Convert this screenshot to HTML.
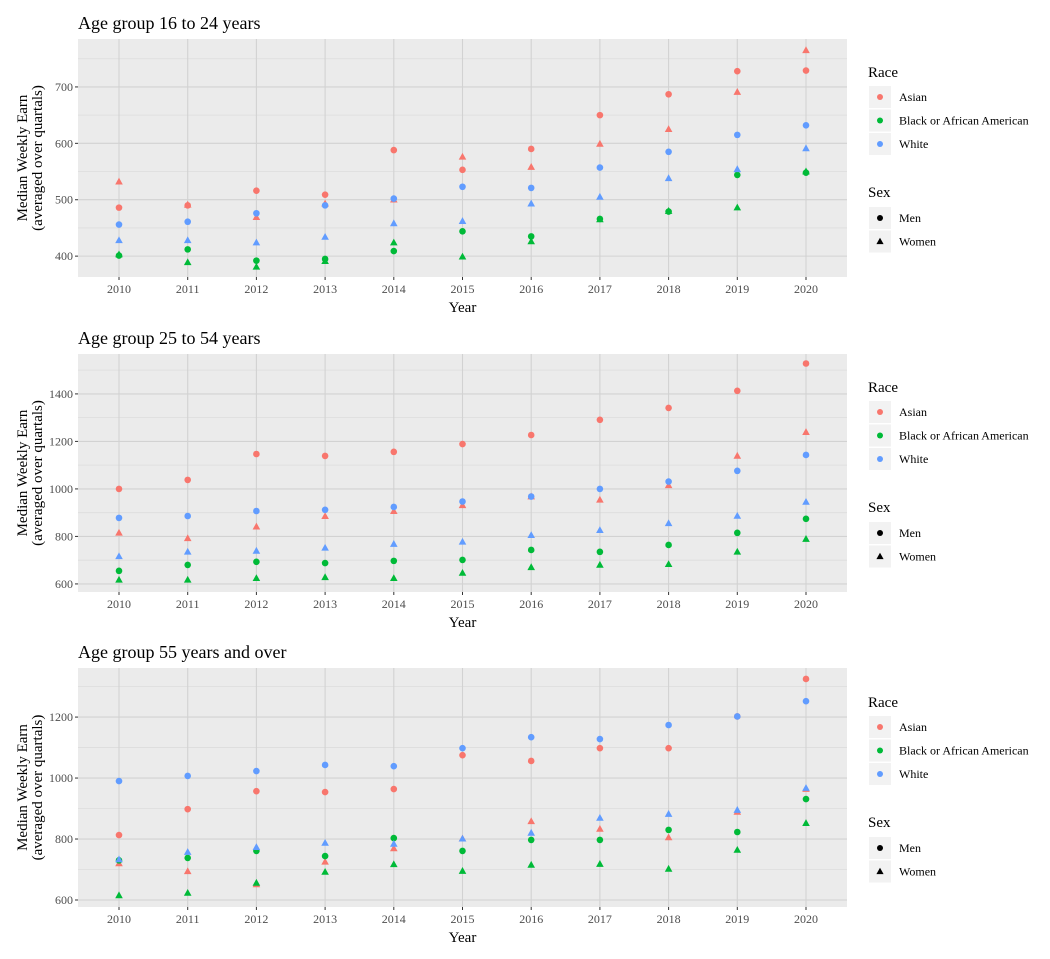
<!DOCTYPE html>
<html><head><meta charset="utf-8">
<style>
body{margin:0;background:#fff;}
svg{display:block;font-family:"Liberation Serif",serif;}
</style></head>
<body>
<svg id="chart" width="1050" height="959" viewBox="0 0 1050 959"></svg>
<script>
const years = [2010,2011,2012,2013,2014,2015,2016,2017,2018,2019,2020];
const races = ["Asian","Black or African American","White"];
const sexes = ["Men","Women"];
const colors = ["#F8766D","#00BA38","#619CFF"];
const titles = ["Age group 16 to 24 years","Age group 25 to 54 years","Age group 55 years and over"];
// panel 1 (16-24)
const p1AsianMen   = [486,490,516,509,588,553,590,650,687,728,729];
const p1AsianWomen = [532,491,469,493,500,576,558,599,625,691,765];
const p1BlackMen   = [401,412,392,395,409,444,435,466,479,544,548];
const p1BlackWomen = [403,389,381,391,424,399,426,465,480,486,550];
const p1WhiteMen   = [456,461,476,490,502,523,521,557,585,615,632];
const p1WhiteWomen = [428,428,424,434,458,462,493,505,538,554,591];
// panel 2 (25-54)
const p2AsianMen   = [1000,1038,1147,1139,1156,1189,1227,1291,1341,1413,1528];
const p2AsianWomen = [815,792,841,885,906,931,968,954,1015,1139,1239];
const p2BlackMen   = [655,680,693,688,697,701,743,735,764,815,874];
const p2BlackWomen = [617,617,624,628,624,646,670,680,683,735,789];
const p2WhiteMen   = [878,886,907,912,924,947,968,1000,1031,1076,1143];
const p2WhiteWomen = [716,735,739,752,768,777,805,826,855,886,945];
// panel 3 (55+)
const p3AsianMen   = [813,898,957,954,964,1075,1056,1098,1098,1202,1325];
const p3AsianWomen = [720,694,651,725,769,801,858,833,805,889,964];
const p3BlackMen   = [730,738,761,744,803,761,797,797,830,823,931];
const p3BlackWomen = [615,623,656,692,717,695,715,718,702,764,852];
const p3WhiteMen   = [990,1007,1023,1043,1039,1098,1134,1128,1174,1202,1252];
const p3WhiteWomen = [733,757,773,787,784,801,820,869,882,895,967];
const p1Ticks = [400,500,600,700];
const p2Ticks = [600,800,1000,1200,1400];
const p3Ticks = [600,800,1000,1200];

const panels = [
 {series:[[p1AsianMen,p1AsianWomen],[p1BlackMen,p1BlackWomen],[p1WhiteMen,p1WhiteWomen]], ticks:p1Ticks, minor:50, dom:[363,785], top:39, bot:277, off:0},
 {series:[[p2AsianMen,p2AsianWomen],[p2BlackMen,p2BlackWomen],[p2WhiteMen,p2WhiteWomen]], ticks:p2Ticks, minor:100, dom:[566,1568], top:354, bot:592, off:315},
 {series:[[p3AsianMen,p3AsianWomen],[p3BlackMen,p3BlackWomen],[p3WhiteMen,p3WhiteWomen]], ticks:p3Ticks, minor:100, dom:[577,1361], top:668, bot:907, off:630}
];
const NS="http://www.w3.org/2000/svg";
const svg=document.getElementById('chart');
function mk(tag,attrs,parent,text){const e=document.createElementNS(NS,tag);for(const k in attrs)e.setAttribute(k,attrs[k]);if(text!==undefined)e.textContent=text;(parent||svg).appendChild(e);return e;}
const X0=78,X1=847;
const xs=y=>119+(y-2010)*(806-119)/10;

panels.forEach((p,pi)=>{
  const g=mk('g',{});
  
  
  const ys=v=>p.bot-(v-p.dom[0])*(p.bot-p.top)/(p.dom[1]-p.dom[0]);
  const t=mk('text',{x:78,y:p.top-10,'font-size':18,fill:'#000'},g,titles[pi]);
  
  
  const bg=mk('rect',{x:X0,y:p.top,width:X1-X0,height:p.bot-p.top,fill:'#EBEBEB'},g);
  
  
  const first=Math.ceil(p.dom[0]/p.minor)*p.minor;
  for(let v=first;v<=p.dom[1];v+=p.minor){
    if(p.ticks.indexOf(v)>=0)continue;
    mk('line',{x1:X0,x2:X1,y1:ys(v),y2:ys(v),stroke:'#DCDCDC','stroke-width':0.8},g);
  }
  p.ticks.forEach(v=>{
    mk('line',{x1:X0,x2:X1,y1:ys(v),y2:ys(v),stroke:'#D2D2D2','stroke-width':1.1},g);
    mk('line',{x1:X0-3,x2:X0,y1:ys(v),y2:ys(v),stroke:'#333','stroke-width':1},g);
    const tl=mk('text',{x:X0-5,y:ys(v)+4,'font-size':12,fill:'#4D4D4D','text-anchor':'end'},g,v);
    
    
  });
  years.forEach(y=>{
    mk('line',{x1:xs(y),x2:xs(y),y1:p.top,y2:p.bot,stroke:'#D2D2D2','stroke-width':1.1},g);
    mk('line',{x1:xs(y),x2:xs(y),y1:p.bot,y2:p.bot+3,stroke:'#333','stroke-width':1},g);
    const tl=mk('text',{x:xs(y),y:p.bot+16,'font-size':12,fill:'#4D4D4D','text-anchor':'middle'},g,y);
    
    
  });
  const xt=mk('text',{x:(X0+X1)/2,y:p.bot+35,'font-size':15,fill:'#000','text-anchor':'middle'},g,'Year');
  
  
  const cy=(p.top+p.bot)/2;
  const yt=mk('text',{transform:`translate(27,${cy}) rotate(-90)`,'font-size':15,fill:'#000','text-anchor':'middle'},g);
  
  
  mk('tspan',{x:0,y:0},yt,'Median Weekly Earn');
  mk('tspan',{x:0,y:15},yt,'(averaged over quartals)');
  p.series.forEach((rs,ri)=>{
    rs.forEach((vals,si)=>{
      vals.forEach((v,i)=>{
        const x=xs(years[i]),y=ys(v);
        let m;
        if(si===0){m=mk('circle',{cx:x,cy:y,r:3.3,fill:colors[ri]},g);}
        else{m=mk('polygon',{points:`${x},${y-4} ${x-3.8},${y+2.8} ${x+3.8},${y+2.8}`,fill:colors[ri]},g);}
        
        
      });
    });
  });
  const o=p.off;
  const lg=mk('g',{},g);
  
  
  mk('text',{x:868,y:77+o,'font-size':15,fill:'#000'},lg,'Race');
  races.forEach((r,i)=>{
    const yy=97+o+i*23.5;
    mk('rect',{x:869,y:yy-11,width:22,height:22,fill:'#F2F2F2'},lg);
    mk('circle',{cx:880,cy:yy,r:3,fill:colors[i]},lg);
    const lt=mk('text',{x:899,y:yy+4,'font-size':12,fill:'#000'},lg,r);
    
    
  });
  mk('text',{x:868,y:197+o,'font-size':15,fill:'#000'},lg,'Sex');
  sexes.forEach((s,i)=>{
    const yy=218+o+i*23.5;
    mk('rect',{x:869,y:yy-11,width:22,height:22,fill:'#F2F2F2'},lg);
    if(i===0)mk('circle',{cx:880,cy:yy,r:3,fill:'#000'},lg);
    else mk('polygon',{points:`880,${yy-3.8} ${876.4},${yy+2.6} ${883.6},${yy+2.6}`,fill:'#000'},lg);
    const lt=mk('text',{x:899,y:yy+4,'font-size':12,fill:'#000'},lg,s);
    
    
  });
});
</script>
</body></html>
